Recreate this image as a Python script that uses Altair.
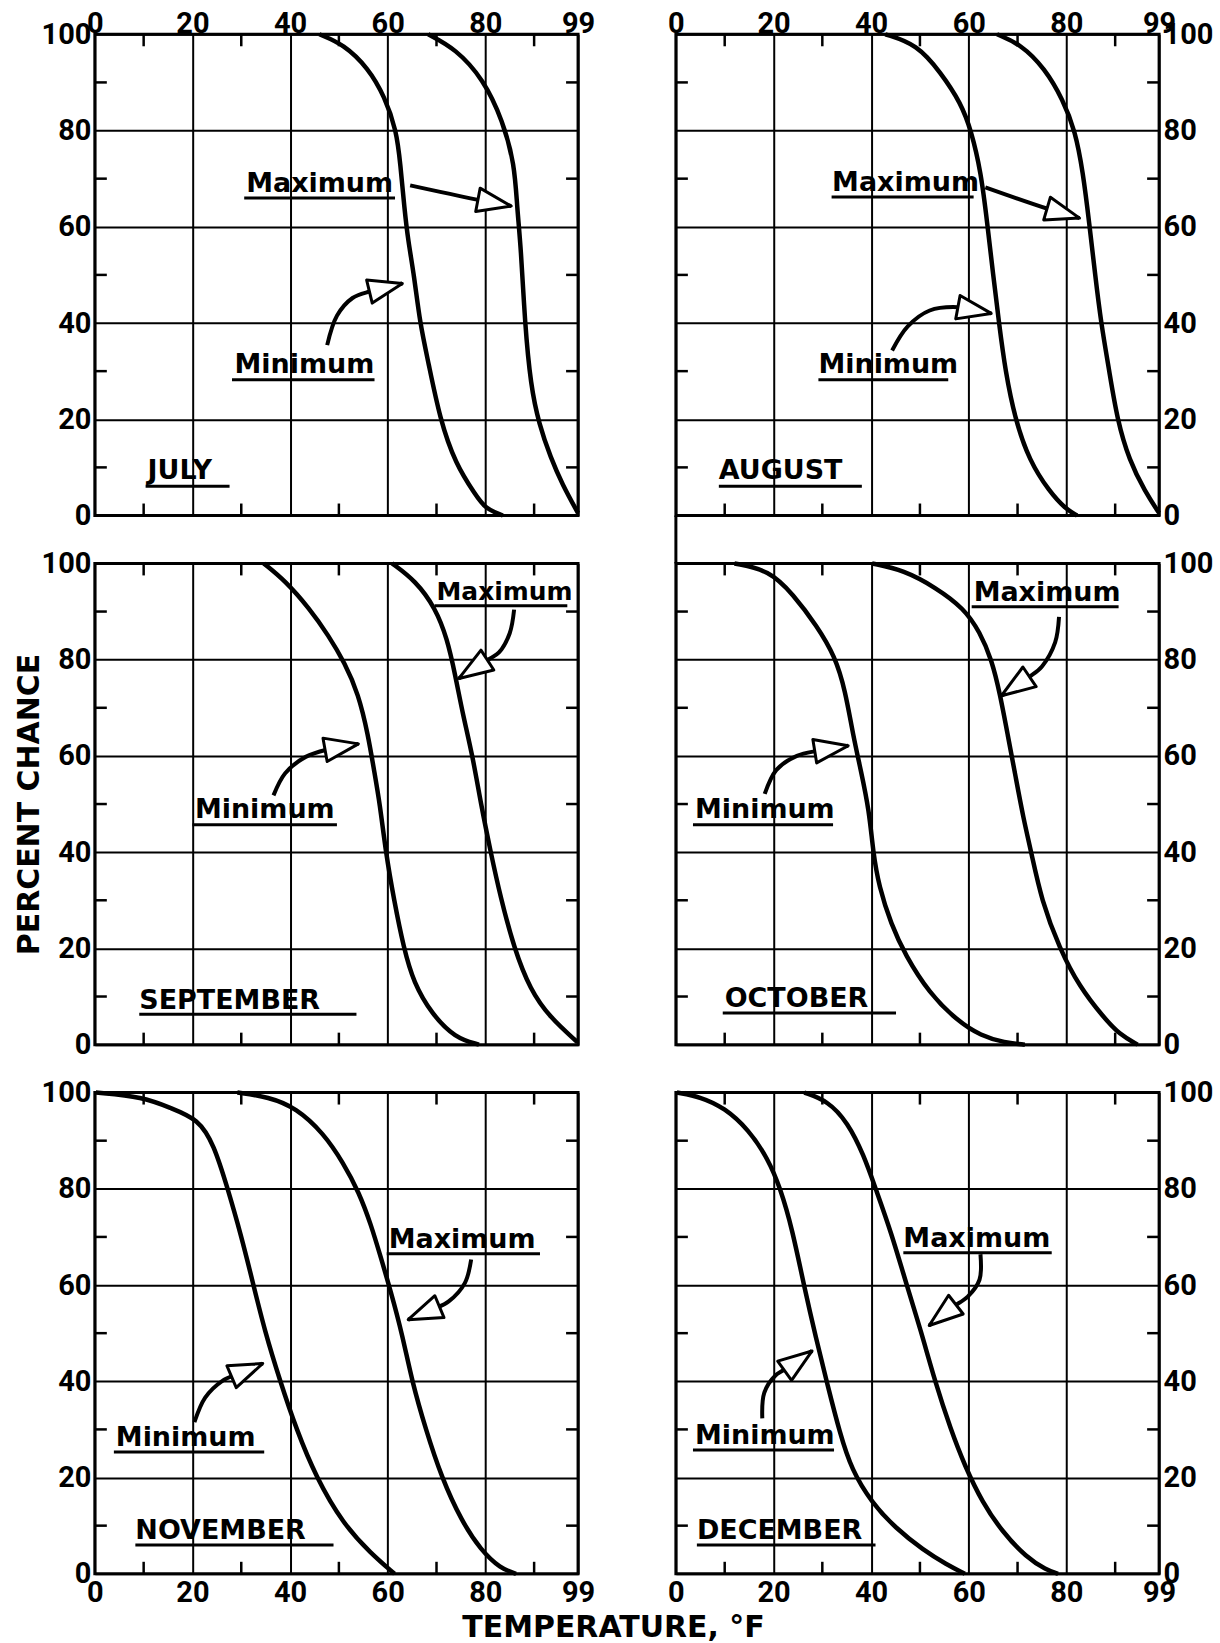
import math
import altair as alt
import pandas as pd

# ---------------- data ----------------
MONTHS = ["JULY", "AUGUST", "SEPTEMBER", "OCTOBER", "NOVEMBER", "DECEMBER"]
X_TICKS = [0, 20, 40, 60, 80, 99]
Y_TICKS = [0, 20, 40, 60, 80, 100]
MINOR_TICKS = [10, 30, 50, 70, 90]

# temperature (F) / percent chance, minimum and maximum curves
jul_min_t = [46, 51, 56, 59.4, 61.8, 62.6, 63.4, 64.2, 65.4, 66.6, 68.3, 70.7, 73.9, 78, 80, 83.6]
jul_min_p = [100, 97.9, 93, 87, 80, 73, 64, 57, 50, 40, 32, 20, 10.7, 4.3, 1.4, 0]
jul_max_t = [68.3, 73.9, 79.6, 83.6, 86, 86.5, 87.3, 88.1, 89.3, 91, 93.4, 95.8, 99]
jul_max_p = [100, 97, 90.7, 82, 73, 64, 55.7, 40, 27, 19, 12, 6.4, 0.5]

aug_min_t = [42.9, 49.4, 54.3, 58.4, 60.5, 62.5, 63.8, 65, 66.2, 67.5, 69.5, 72.4, 76.5, 79.8, 82.2]
aug_min_p = [100, 97.9, 92, 85.7, 80, 71.4, 60.7, 50, 40, 30, 20, 11.4, 5, 1.4, 0]
aug_max_t = [65.8, 70.7, 75.6, 79.3, 81.8, 83.4, 84.7, 85.9, 87.1, 88.8, 90.4, 92.9, 96.1, 99]
aug_max_p = [100, 97.9, 92.9, 86.4, 80, 71.4, 60.7, 50, 40, 30, 20, 11.4, 5, 0.5]

sep_min_t = [34.6, 39, 43.9, 47.9, 51.2, 54, 56, 57.2, 58.4, 59.6, 61.3, 63.3, 65.3, 69, 73.8, 78.7]
sep_min_p = [100, 96.4, 90.7, 85, 79.3, 72.9, 64.3, 57, 50, 40, 30, 20, 12.9, 6.4, 1.4, 0]
sep_max_t = [60.9, 65.7, 69.8, 72.2, 73.8, 75.4, 77.4, 79.1, 81.1, 83.1, 85.9, 89.2, 93.2, 98.9]
sep_max_p = [100, 96.4, 90.7, 84.3, 77, 68.6, 60, 50, 40, 30.7, 20, 11.4, 5.7, 0.5]

oct_min_t = [12.0, 19.1, 24, 28.9, 32.6, 34.7, 36.3, 37.9, 39.6, 40.4, 41.6, 44.1, 47, 51.9, 57.6, 62.5, 67.4, 71.5]
oct_min_p = [100, 98.6, 93.6, 87, 80.7, 73.6, 64.3, 57, 48.6, 40, 32.9, 25, 18.6, 10.7, 5, 1.8, 0.4, 0]
oct_max_t = [40.2, 46.7, 53.2, 59, 62.3, 64.7, 66.4, 68, 69.6, 71.2, 72.8, 74.9, 78.6, 82.7, 87.6, 90.9, 94.6]
oct_max_p = [100, 98.6, 95, 90.7, 85.7, 80, 72.9, 64.3, 55.7, 47, 40, 30, 20, 12, 5.7, 2.1, 0]

nov_min_t = [0.2, 9.9, 15.5, 21.2, 24.4, 27.2, 30, 32.4, 34.8, 38, 41.3, 45.3, 50.9, 56.6, 61.4]
nov_min_p = [100, 99.1, 96.8, 94.5, 89.2, 80.1, 70.2, 60.4, 50.5, 39.9, 30, 20.1, 10.3, 4.2, 0]
nov_max_t = [29.2, 35.6, 41.3, 46.9, 50.9, 54.1, 56.6, 58.6, 60.6, 63, 65, 67.8, 71, 75.1, 79.1, 83.1, 86.3]
nov_max_p = [100, 99.1, 96.8, 91.5, 85.4, 79.3, 72.5, 65.7, 58.8, 49.7, 39.9, 30, 20.1, 11, 4.9, 1.1, 0]

dec_min_t = [0.2, 5.1, 10, 14.9, 18.9, 21.4, 23.8, 26.3, 28.7, 31.1, 33.6, 36, 40.1, 45, 50.7, 55.5, 59.2]
dec_min_p = [100, 99.1, 96.8, 92.3, 86.2, 80.1, 71.8, 59.6, 49, 39.1, 29.2, 21.6, 14.8, 9.5, 4.9, 1.9, 0]
dec_max_t = [26.3, 31.1, 35.2, 38.5, 40.9, 44.1, 47.4, 50.2, 53.1, 56.3, 59.2, 62.8, 66.9, 71.8, 75.9, 78.3]
dec_max_p = [100, 98.3, 93.8, 87, 80.1, 71, 59.6, 50.5, 39.9, 30, 22.4, 14.8, 8.7, 3.4, 0.8, 0]

CURVES = [
    (jul_min_t, jul_min_p, jul_max_t, jul_max_p),
    (aug_min_t, aug_min_p, aug_max_t, aug_max_p),
    (sep_min_t, sep_min_p, sep_max_t, sep_max_p),
    (oct_min_t, oct_min_p, oct_max_t, oct_max_p),
    (nov_min_t, nov_min_p, nov_max_t, nov_max_p),
    (dec_min_t, dec_min_p, dec_max_t, dec_max_p),
]

# annotation placement (data units): text (label, left x, baseline y)
LABELS = [
    [("Maximum", 31.0, 67.3), ("Minimum", 28.6, 29.6), ("JULY", 10.8, 7.5)],
    [("Maximum", 32.0, 67.5), ("Minimum", 29.2, 29.6), ("AUGUST", 8.8, 7.5)],
    [("Maximum", 70.0, 92.5), ("Minimum", 20.5, 47.1), ("SEPTEMBER", 9.1, 7.5)],
    [("Maximum", 61.0, 92.1), ("Minimum", 3.9, 47.1), ("OCTOBER", 10.0, 7.9)],
    [("Maximum", 60.2, 67.6), ("Minimum", 4.3, 26.6), ("NOVEMBER", 8.3, 7.2)],
    [("Maximum", 46.6, 68.0), ("Minimum", 3.9, 27.0), ("DECEMBER", 4.3, 7.2)],
]
# underlines (x start, x end, y)
UNDERLINES = [
    [(30.6, 61.5, 66.0), (28.1, 57.3, 28.2), (10.4, 27.6, 6.1)],
    [(31.9, 61.0, 66.2), (29.2, 55.8, 28.2), (8.8, 38.1, 6.1)],
    [(69.6, 96.8, 91.2), (20.0, 49.6, 45.7), (9.1, 53.6, 6.3)],
    [(60.6, 90.7, 91.0), (3.5, 32.2, 45.7), (9.6, 45.1, 6.6)],
    [(59.8, 91.2, 66.5), (3.9, 34.7, 25.3), (8.3, 48.9, 6.0)],
    [(46.6, 77.0, 66.7), (3.5, 32.4, 25.7), (4.3, 40.9, 6.0)],
]
# arrows: shaft points, last two = head base -> tip
ARROWS = [
    [[(64.6, 68.6), (78.0, 65.7), (85.3, 64.3)],
     [(47.6, 35.4), (49.6, 41.5), (52.8, 45.2), (56.5, 46.6), (63.0, 48.2)]],
    [[(63.4, 68.2), (76.0, 63.8), (82.7, 61.8)],
     [(44.3, 34.3), (47.5, 39.3), (52.0, 42.6), (57.7, 43.3), (64.6, 42.0)]],
    [[(85.9, 90.4), (85.0, 85.5), (82.8, 81.5), (80.4, 79.9), (74.6, 76.1)],
     [(36.6, 51.8), (39.0, 56.4), (43.2, 59.8), (47.9, 61.4), (54.0, 62.5)]],
    [[(78.5, 88.9), (77.7, 83.6), (75.0, 78.6), (72.4, 76.4), (66.7, 72.5)],
     [(18.2, 52.1), (20.6, 57.1), (24.8, 60.0), (29.2, 61.1), (35.3, 62.1)]],
    [[(77.1, 65.3), (75.8, 60.4), (72.5, 56.6), (69.4, 55.0), (64.2, 52.8)],
     [(20.4, 31.5), (22.6, 36.6), (26.0, 40.0), (30.0, 41.8), (34.4, 43.7)]],
    [[(62.4, 66.4), (62.2, 61.1), (59.8, 57.6), (56.7, 55.4), (51.9, 51.6)],
     [(17.7, 32.3), (18.1, 37.6), (20.4, 41.2), (23.8, 43.3), (27.9, 46.3)]],
]

# ---------------- styling ----------------
W, H = 484, 482
FONT = "DejaVu Sans"
TICK_FONT = "Roboto"
LABEL_SIZE = 27
NARROW_LABELS = {(2, "Maximum"): 25}   # hand lettering is tighter in that panel
HEAD_PATH = "M0,0 L0.7,2 L-0.7,2 Z"
SX, SY = W / 99.0, H / 100.0
ROW_GAP, COL_GAP = 48, 98

xscale = alt.Scale(domain=[0, 99], nice=False, zero=False)
yscale = alt.Scale(domain=[0, 100], nice=False, zero=False)


def make_panel(i):
    row, col = divmod(i, 2)
    mn_t, mn_p, mx_t, mx_p = CURVES[i]

    curve_rows = []
    for name, ts, ps in (("Minimum", mn_t, mn_p), ("Maximum", mx_t, mx_p)):
        for k, (t, p) in enumerate(zip(ts, ps)):
            curve_rows.append({"series": name, "t": t, "p": p, "k": k})
    curve_df = pd.DataFrame(curve_rows)

    if row == 0:
        xaxis = alt.Axis(orient="top", values=X_TICKS, title=None, labelFlush=False,
                         labelOverlap=False, labelPadding=-4)
    elif row == 1:
        xaxis = alt.Axis(orient="bottom", values=X_TICKS, title=None, labels=False)
    else:
        xaxis = alt.Axis(orient="bottom", values=X_TICKS, title=None, labelFlush=False,
                         labelOverlap=False, labelPadding=5)
    if col == 0:
        yaxis = alt.Axis(orient="left", values=Y_TICKS, labelPadding=4, labelOverlap=False,
                         title="PERCENT CHANCE" if i == 2 else None)
    else:
        yaxis = alt.Axis(orient="right", values=Y_TICKS, labelPadding=4, labelOverlap=False,
                         title=None)

    def X(field):
        return alt.X(field, scale=xscale, axis=xaxis)

    def Y(field):
        return alt.Y(field, scale=yscale, axis=yaxis)

    curves = alt.Chart(curve_df).mark_line(
        color="black", strokeWidth=4.5, interpolate="basis"
    ).encode(x=X("t:Q"), y=Y("p:Q"), detail="series:N", order="k:Q")

    minor_df = pd.DataFrame({"v": MINOR_TICKS})
    tick_style = dict(color="black", strokeWidth=2.5)
    xt_top = alt.Chart(minor_df).mark_rule(**tick_style).encode(
        x=X("v:Q"), y=alt.value(0), y2=alt.value(12))
    xt_bot = alt.Chart(minor_df).mark_rule(**tick_style).encode(
        x=X("v:Q"), y=alt.value(H - 12), y2=alt.value(H))
    yt_left = alt.Chart(minor_df).mark_rule(**tick_style).encode(
        y=Y("v:Q"), x=alt.value(0), x2=alt.value(12))
    yt_right = alt.Chart(minor_df).mark_rule(**tick_style).encode(
        y=Y("v:Q"), x=alt.value(W - 12), x2=alt.value(W))

    lab_df = pd.DataFrame([
        {"label": l, "x": x, "y": y, "fs": NARROW_LABELS.get((i, l), LABEL_SIZE)}
        for l, x, y in LABELS[i]
    ])
    texts = alt.Chart(lab_df).mark_text(
        align="left", baseline="alphabetic", font=FONT,
        fontWeight="bold", color="black"
    ).encode(x=X("x:Q"), y=Y("y:Q"), text="label:N",
             size=alt.Size("fs:Q", scale=None, legend=None))

    ul_df = pd.DataFrame([{"x1": a, "x2": b, "y": y} for a, b, y in UNDERLINES[i]])
    unders = alt.Chart(ul_df).mark_rule(color="black", strokeWidth=3).encode(
        x=X("x1:Q"), x2="x2:Q", y=Y("y:Q"))

    shaft_rows, head_rows = [], []
    for a, pts in enumerate(ARROWS[i]):
        for k, (x, y) in enumerate(pts):
            shaft_rows.append({"aid": a, "k": k, "x": x, "y": y})
        (bx, by), (tx, ty) = pts[-2], pts[-1]
        ang = math.degrees(math.atan2((tx - bx) * SX, (ty - by) * SY)) % 360
        head_rows.append({"x": tx, "y": ty, "ang": ang})
    shafts = alt.Chart(pd.DataFrame(shaft_rows)).mark_line(
        color="black", strokeWidth=4, interpolate="catmull-rom"
    ).encode(x=X("x:Q"), y=Y("y:Q"), detail="aid:N", order="k:Q")
    heads = alt.Chart(pd.DataFrame(head_rows)).mark_point(
        shape=HEAD_PATH, size=1150, filled=True, fill="white", stroke="black",
        strokeWidth=3, opacity=1, strokeJoin="round"
    ).encode(x=X("x:Q"), y=Y("y:Q"), angle=alt.Angle("ang:Q", scale=None))

    layers = [curves, xt_top, xt_bot, yt_left, yt_right, unders, texts, shafts, heads]
    if i == 1:
        link = alt.Chart(pd.DataFrame({"v": [0]})).mark_rule(color="black", strokeWidth=3).encode(
            x=X("v:Q"), y=alt.value(H), y2=alt.value(H + ROW_GAP))
        layers.append(link)
    return alt.layer(*layers).properties(width=W, height=H)


panels = [make_panel(i) for i in range(6)]

chart = alt.concat(
    *panels,
    columns=2,
    spacing=alt.RowColnumber(row=ROW_GAP, column=COL_GAP),
    bounds="flush",
).properties(
    title=alt.TitleParams(
        text="TEMPERATURE, °F", orient="bottom", anchor="middle", font=FONT,
        fontSize=30, fontWeight="bold", color="black", offset=4,
    ),
    padding={"left": 12, "top": 6, "right": 5, "bottom": 5},
    background="white",
).configure_view(
    stroke="black", strokeWidth=3,
).configure_axis(
    labelFont=TICK_FONT, labelFontSize=29, labelFontWeight="bold", labelColor="black",
    grid=True, gridColor="black", gridWidth=2, gridOpacity=1,
    domain=False, ticks=False,
    titleFont=FONT, titleFontSize=30, titleFontWeight="bold", titleColor="black",
    titlePadding=-3,
)

chart.save("out.html", embed_options={"renderer": "svg", "actions": False})
